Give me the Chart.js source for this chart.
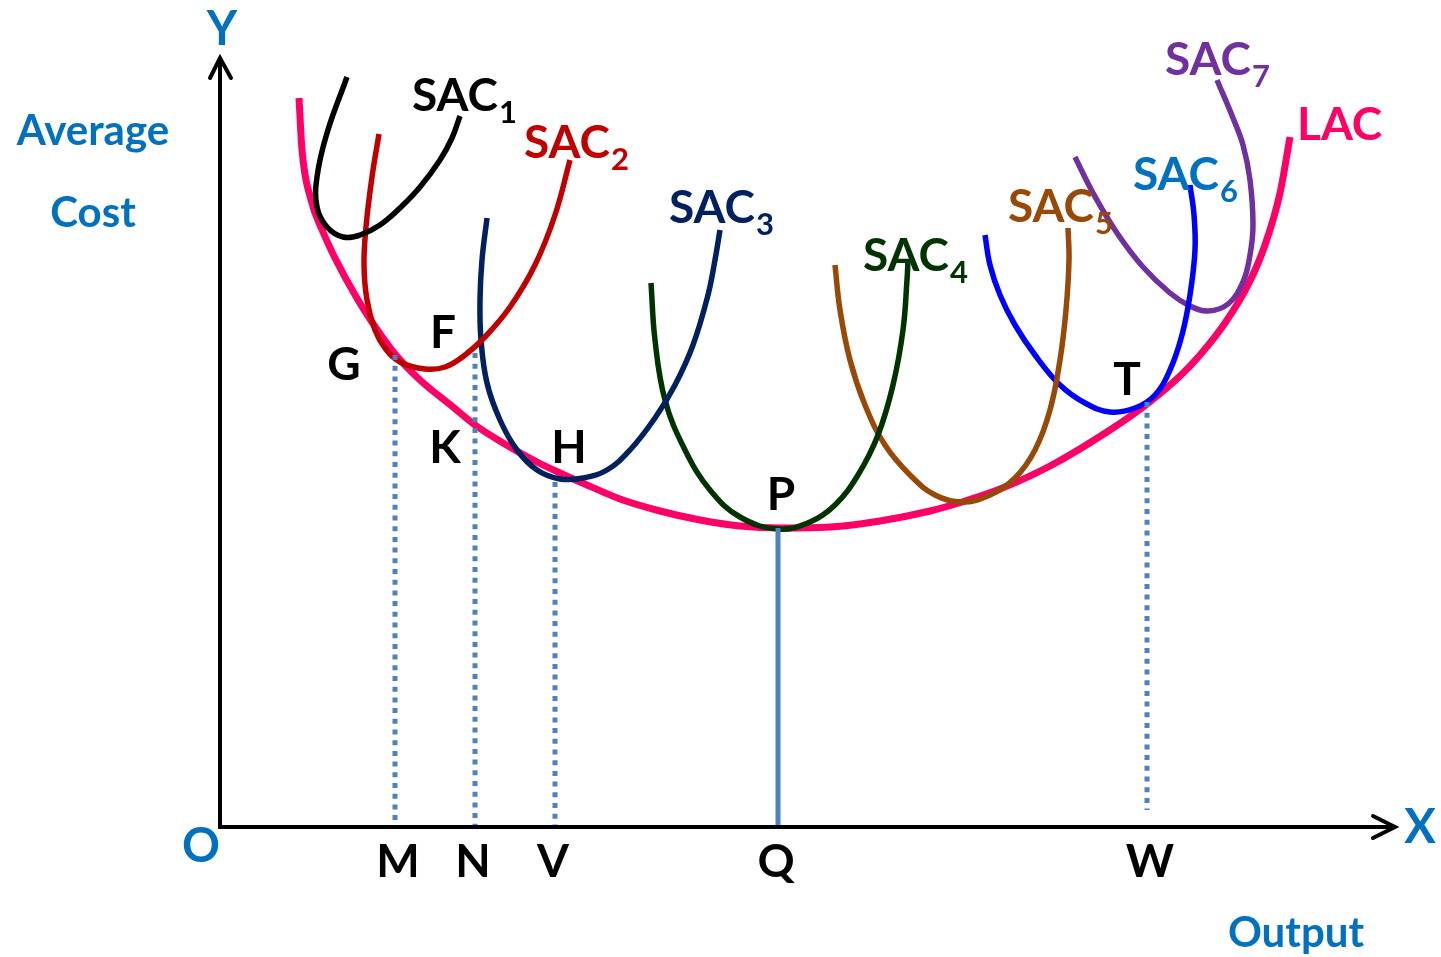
<!DOCTYPE html>
<html>
<head>
<meta charset="utf-8">
<script src="https://cdn.jsdelivr.net/npm/chart.js@4.4.1/dist/chart.umd.min.js"></script>
<style>
  html, body { margin: 0; padding: 0; background: #ffffff; }
  #wrap { width: 1441px; height: 957px; position: relative; }
</style>
</head>
<body>
<div id="wrap"><canvas id="c"></canvas></div>
<script>
// ---- Data (output on x, average cost on y; origin O = (0,0)) ----
const lacOutput = [79, 82, 91, 103, 116, 138, 156, 175, 200, 233, 255, 283, 317, 340, 367, 400, 440, 480, 520, 560, 610, 660, 710, 742, 780, 830, 890, 927, 960, 980, 1005, 1028, 1045, 1060, 1070];
const lacCost   = [729, 677, 627, 595, 567, 527, 499, 473, 447, 420, 402, 384, 365, 354, 342, 328, 316, 307, 301, 299, 300, 306, 316, 325, 338, 361, 397, 423, 451, 472, 504, 542, 582, 634, 690];

const sac1Output = [127, 107, 97, 97, 107, 123, 140, 160, 180, 200, 220, 232, 240];
const sac1Cost   = [750, 694, 650, 620, 600, 590, 592, 602, 619, 640, 667, 689, 711];

const sac2Output = [159, 152, 146, 144, 147, 155, 165, 180, 205, 225, 245, 265, 290, 315, 335, 350];
const sac2Cost   = [693, 650, 600, 562, 527, 497, 479, 465, 458, 460, 472, 490, 520, 562, 612, 667];

const sac3Output = [267, 262, 260, 261, 267, 280, 297, 317, 340, 363, 387, 410, 435, 455, 473, 488, 495, 500];
const sac3Cost   = [609, 567, 527, 487, 444, 407, 377, 357, 348, 349, 357, 377, 409, 442, 482, 532, 567, 597];

const sac4Output = [431, 435, 445, 465, 490, 520, 558, 590, 615, 638, 658, 673, 683, 687, 688];
const sac4Cost   = [544, 487, 427, 377, 337, 310, 298, 305, 322, 352, 392, 442, 497, 547, 567];

const sac5Output = [615, 620, 630, 645, 665, 690, 715, 742, 770, 795, 815, 830, 840, 846, 849, 848];
const sac5Cost   = [562, 517, 467, 422, 382, 352, 332, 325, 332, 349, 377, 417, 467, 517, 567, 599];

const sac6Output = [765, 770, 780, 795, 815, 840, 865, 890, 915, 935, 950, 962, 970, 975, 974, 970];
const sac6Cost   = [592, 562, 532, 502, 472, 442, 424, 415, 419, 432, 457, 492, 532, 577, 612, 642];

const sac7Output = [855, 873, 897, 923, 950, 970, 988, 1008, 1023, 1030, 1033, 1030, 1023, 1013, 997];
const sac7Cost   = [670, 634, 594, 560, 534, 521, 516, 523, 545, 572, 602, 647, 682, 709, 747];

// Output levels marked on the X axis and the cost where each guide starts
const tickLabels  = ['M', 'N', 'V', 'Q', 'W'];
const tickOutput  = [175, 255, 335, 558, 927];
const guideTop    = [472, 474, 345, 299, 425];
const guideBottom = [0, 0, 0, 0, 17];

// Axis extents
const axisXEnd = 1175;
const axisYEnd = 769;

// ---- Build datasets ----
const pts = (xs, ys) => xs.map((x, i) => ({ x: x, y: ys[i] }));
const curve = (label, xs, ys, color, width, mono) => ({
  label: label, data: pts(xs, ys), borderColor: color, borderWidth: width,
  showLine: true, pointRadius: 0, tension: 0.4, fill: false,
  cubicInterpolationMode: mono ? 'monotone' : 'default',
  borderCapStyle: 'butt', borderJoinStyle: 'round'
});

const datasets = [];
tickLabels.forEach((t, i) => {
  datasets.push({
    label: 'guide ' + t,
    data: [{ x: tickOutput[i], y: guideTop[i] }, { x: tickOutput[i], y: guideBottom[i] }],
    borderColor: '#4F81BD', borderWidth: 5, showLine: true, pointRadius: 0,
    borderDash: t === 'Q' ? [] : [5, 5.7], borderCapStyle: 'butt', tension: 0
  });
});
datasets.push(curve('SAC1', sac1Output, sac1Cost, '#000000', 5.5));
datasets.push(curve('SAC2', sac2Output, sac2Cost, '#C00000', 5.5));
datasets.push(curve('SAC3', sac3Output, sac3Cost, '#002060', 5.5));
datasets.push(curve('SAC4', sac4Output, sac4Cost, '#003300', 5.5));
datasets.push(curve('SAC5', sac5Output, sac5Cost, '#984807', 5.5));
datasets.push(curve('SAC6', sac6Output, sac6Cost, '#0000FF', 5.5));
datasets.push(curve('SAC7', sac7Output, sac7Cost, '#7030A0', 5.5));
datasets.push(curve('LAC', lacOutput, lacCost, '#FF0066', 7, true));

// ---- Text annotations (anchor in data units) ----
const FONT = 'Lato, "Open Sans", sans-serif';
const curveLabels = [
  { t: 'SAC', s: '1', x: 192, y: 716, c: '#000000' },
  { t: 'SAC', s: '2', x: 304, y: 669, c: '#C00000' },
  { t: 'SAC', s: '3', x: 449, y: 604, c: '#002060' },
  { t: 'SAC', s: '4', x: 643, y: 556, c: '#003300' },
  { t: 'SAC', s: '5', x: 788, y: 605, c: '#984807' },
  { t: 'SAC', s: '6', x: 913, y: 637, c: '#0070C0' },
  { t: 'SAC', s: '7', x: 945, y: 752, c: '#7030A0' },
  { t: 'LAC', s: '',  x: 1077, y: 687, c: '#FF0066' }
];
const pointLabels = [
  { t: 'G', x: 124, y: 447 },
  { t: 'F', x: 223, y: 479 },
  { t: 'K', x: 225, y: 364 },
  { t: 'H', x: 349, y: 364 },
  { t: 'P', x: 561, y: 317 },
  { t: 'T', x: 907, y: 432 }
];
const blueLabels = [
  { t: 'Y', x: 2, y: 782, size: 47 },
  { t: 'X', x: 1200, y: -16, size: 47 },
  { t: 'O', x: -19, y: -35, size: 47 },
  { t: 'Average', x: -127, y: 682, size: 42 },
  { t: 'Cost', x: -127, y: 600, size: 42 },
  { t: 'Output', x: 1076, y: -120, size: 42 }
];

const drawPlugin = {
  id: 'diagram',
  afterDatasetsDraw(chart) {
    const ctx = chart.ctx, xs = chart.scales.x, ys = chart.scales.y;
    const X = v => xs.getPixelForValue(v), Y = v => ys.getPixelForValue(v);
    ctx.save();
    // axes
    ctx.strokeStyle = '#000000';
    ctx.lineWidth = 4;
    ctx.lineCap = 'butt';
    ctx.beginPath();
    ctx.moveTo(X(0), Y(0)); ctx.lineTo(X(0), Y(axisYEnd));
    ctx.moveTo(X(-2), Y(0)); ctx.lineTo(X(axisXEnd), Y(0));
    ctx.stroke();
    ctx.lineCap = 'round';
    ctx.lineJoin = 'miter';
    ctx.beginPath();
    ctx.moveTo(X(-10), Y(axisYEnd - 20)); ctx.lineTo(X(0), Y(axisYEnd)); ctx.lineTo(X(11), Y(axisYEnd - 20));
    ctx.moveTo(X(axisXEnd - 22), Y(11)); ctx.lineTo(X(axisXEnd), Y(0)); ctx.lineTo(X(axisXEnd - 22), Y(-11));
    ctx.stroke();

    ctx.textBaseline = 'alphabetic';
    // curve labels with subscripts
    curveLabels.forEach(l => {
      ctx.fillStyle = l.c;
      ctx.textAlign = 'left';
      ctx.font = 'bold 46px ' + FONT;
      ctx.fillText(l.t, X(l.x), Y(l.y));
      const w = ctx.measureText(l.t).width;
      if (l.s) {
        ctx.font = 'bold 31px ' + FONT;
        ctx.fillText(l.s, X(l.x) + w + 1, Y(l.y) + 12);
      }
    });
    // point labels
    ctx.fillStyle = '#000000';
    ctx.textAlign = 'center';
    ctx.font = 'bold 46px ' + FONT;
    pointLabels.forEach(l => ctx.fillText(l.t, X(l.x), Y(l.y)));
    // tick labels on X axis
    tickLabels.forEach((t, i) => ctx.fillText(t, X(tickOutput[i] + (t === 'M' ? 3 : t === 'W' ? 3 : -2)), Y(-50)));
    // blue axis texts
    ctx.fillStyle = '#0070C0';
    ctx.textAlign = 'center';
    blueLabels.forEach(l => {
      ctx.font = 'bold ' + l.size + 'px ' + FONT;
      ctx.fillText(l.t, X(l.x), Y(l.y));
    });
    ctx.restore();
  }
};

new Chart(document.getElementById('c'), {
  type: 'scatter',
  data: { datasets: datasets },
  options: {
    responsive: true,
    maintainAspectRatio: false,
    devicePixelRatio: 1,
    animation: false,
    layout: { padding: 0 },
    plugins: { legend: { display: false }, tooltip: { enabled: false } },
    scales: {
      x: { type: 'linear', min: -220, max: 1221, display: false },
      y: { type: 'linear', min: -130, max: 827, display: false }
    }
  },
  plugins: [drawPlugin]
});
</script>
</body>
</html>
